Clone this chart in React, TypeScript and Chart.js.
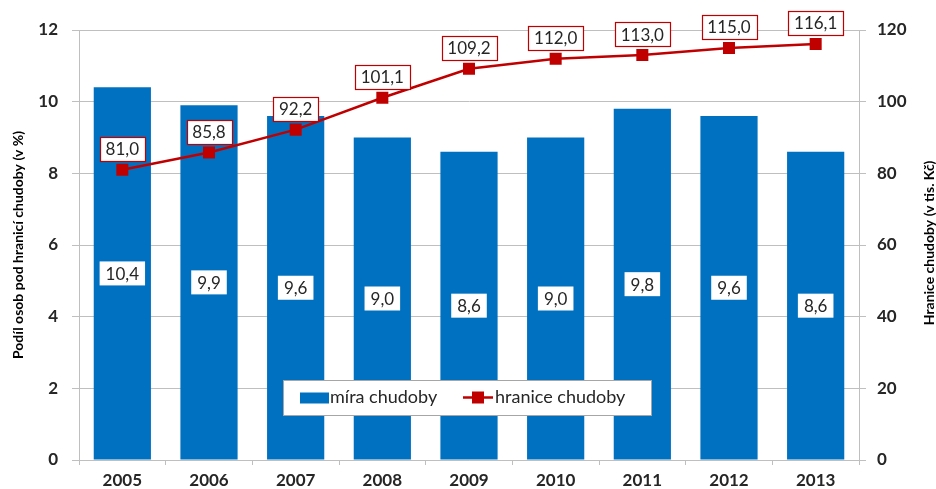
import React, { useEffect, useRef } from "react";
import { Chart, registerables } from "chart.js";

Chart.register(...registerables);

const years = ["2005", "2006", "2007", "2008", "2009", "2010", "2011", "2012", "2013"];
const povertyRate = [10.4, 9.9, 9.6, 9.0, 8.6, 9.0, 9.8, 9.6, 8.6];
const povertyLine = [81.0, 85.8, 92.2, 101.1, 109.2, 112.0, 113.0, 115.0, 116.1];
const leftTitle = "Podíl osob pod hranicí chudoby (v %)";
const rightTitle = "Hranice chudoby (v tis. Kč)";
const barLabel = "míra chudoby";
const lineLabel = "hranice chudoby";

const BLUE = "#0070C0";
const RED = "#C00000";
const TEXT = "#262626";
const GRID = "#BFBFBF";
const FONT = "Lato, 'Open Sans', sans-serif";

const fmt = (v: number) => v.toFixed(1).replace(".", ",");

const overlayPlugin = {
  id: "overlay",
  afterDatasetsDraw(chart: any) {
    const ctx = chart.ctx;
    ctx.save();
    ctx.font = `17px ${FONT}`;
    ctx.textAlign = "center";
    ctx.textBaseline = "middle";
    // bar value labels
    const barMeta = chart.getDatasetMeta(0);
    barMeta.data.forEach((el: any, i: number) => {
      const t = fmt(povertyRate[i]);
      const w = ctx.measureText(t).width + 12;
      const h = 24;
      const cy = (el.y + el.base) / 2;
      ctx.fillStyle = "#FFFFFF";
      ctx.fillRect(el.x - w / 2, cy - h / 2, w, h);
      ctx.fillStyle = TEXT;
      ctx.fillText(t, el.x, cy + 1);
    });
    // line value labels
    const lineMeta = chart.getDatasetMeta(1);
    lineMeta.data.forEach((el: any, i: number) => {
      const t = fmt(povertyLine[i]);
      const w = Math.round(ctx.measureText(t).width + 12);
      const h = 24;
      const cy = el.y - 21;
      const x0 = Math.round(el.x - w / 2);
      const y0 = Math.round(cy - h / 2);
      ctx.fillStyle = "#FFFFFF";
      ctx.fillRect(x0, y0, w, h);
      ctx.strokeStyle = RED;
      ctx.lineWidth = 1.2;
      ctx.strokeRect(x0 + 0.5, y0 + 0.5, w, h);
      ctx.fillStyle = TEXT;
      ctx.fillText(t, el.x, cy + 1);
    });
    ctx.restore();
  },
  afterDraw(chart: any) {
    const ctx = chart.ctx;
    const ca = chart.chartArea;
    ctx.save();
    // axis titles
    ctx.font = `bold 14px ${FONT}`;
    ctx.fillStyle = "#000000";
    ctx.textAlign = "center";
    ctx.textBaseline = "middle";
    const midY = (ca.top + ca.bottom) / 2;
    ctx.save();
    ctx.translate(18, midY);
    ctx.rotate(-Math.PI / 2);
    ctx.fillText(leftTitle, 0, 0);
    ctx.restore();
    ctx.save();
    ctx.translate(chart.width - 7, midY - 2);
    ctx.rotate(-Math.PI / 2);
    ctx.fillText(rightTitle, 0, 0);
    ctx.restore();

    // legend
    const lx = ca.left + 204;
    const ly = ca.top + 350;
    const lw = 368;
    const lh = 35;
    ctx.fillStyle = "#FFFFFF";
    ctx.fillRect(lx, ly, lw, lh);
    ctx.strokeStyle = "#A6A6A6";
    ctx.lineWidth = 1;
    ctx.strokeRect(lx + 0.5, ly + 0.5, lw, lh);
    const cy = ly + lh / 2;
    ctx.fillStyle = BLUE;
    ctx.fillRect(lx + 17, cy - 5, 29, 11);
    ctx.font = `18px ${FONT}`;
    ctx.textAlign = "left";
    ctx.fillStyle = TEXT;
    ctx.fillText(barLabel, lx + 47, cy);
    ctx.strokeStyle = RED;
    ctx.lineWidth = 2.5;
    ctx.beginPath();
    ctx.moveTo(lx + 180, cy);
    ctx.lineTo(lx + 210, cy);
    ctx.stroke();
    ctx.fillStyle = RED;
    ctx.fillRect(lx + 189, cy - 6, 12, 12);
    ctx.fillStyle = TEXT;
    ctx.fillText(lineLabel, lx + 212, cy);
    ctx.restore();
  },
};

export default function App() {
  const ref = useRef<HTMLCanvasElement>(null);
  useEffect(() => {
    if (!ref.current) return;
    const tickFont = { family: FONT, size: 17, weight: "bold" };
    const chart = new Chart(ref.current, {
      type: "bar",
      data: {
        labels: years,
        datasets: [
          {
            type: "bar",
            label: barLabel,
            data: povertyRate,
            backgroundColor: BLUE,
            yAxisID: "y",
            barPercentage: 0.66,
            categoryPercentage: 1,
            order: 2,
          },
          {
            type: "line",
            label: lineLabel,
            data: povertyLine,
            borderColor: RED,
            backgroundColor: RED,
            borderWidth: 2.5,
            pointStyle: "rect",
            pointRadius: 8.5,
            pointBorderWidth: 0,
            yAxisID: "y1",
            order: 1,
          } as any,
        ],
      },
      options: {
        responsive: false,
        animation: false,
        layout: { padding: { top: 30, left: 0, right: 0, bottom: 0 } },
        plugins: {
          legend: { display: false },
          tooltip: { enabled: false },
        },
        scales: {
          x: {
            offset: true,
            grid: { offset: true, drawOnChartArea: false, drawTicks: true, tickLength: 5, color: GRID },
            border: { color: GRID },
            ticks: { color: TEXT, font: tickFont, padding: 5 },
            afterFit: (s: any) => { s.height = 29; },
          },
          y: {
            position: "left",
            min: 0,
            max: 12,
            ticks: { stepSize: 2, color: TEXT, font: tickFont, padding: 14 },
            grid: { color: GRID, tickLength: 7 },
            border: { color: GRID },
            afterFit: (s: any) => { s.width = 79; },
          },
          y1: {
            position: "right",
            min: 0,
            max: 120,
            ticks: { stepSize: 20, color: TEXT, font: tickFont, padding: 11 },
            grid: { drawOnChartArea: false, color: GRID, tickLength: 7 },
            border: { color: GRID },
            afterFit: (s: any) => { s.width = 77; },
          },
        },
      } as any,
      plugins: [overlayPlugin],
    });
    return () => chart.destroy();
  }, []);
  return (
    <div style={{ position: "absolute", left: 0, top: 0, width: 936, height: 489, background: "#fff" }}>
      <canvas ref={ref} width={936} height={489} style={{ display: "block" }} />
    </div>
  );
}
